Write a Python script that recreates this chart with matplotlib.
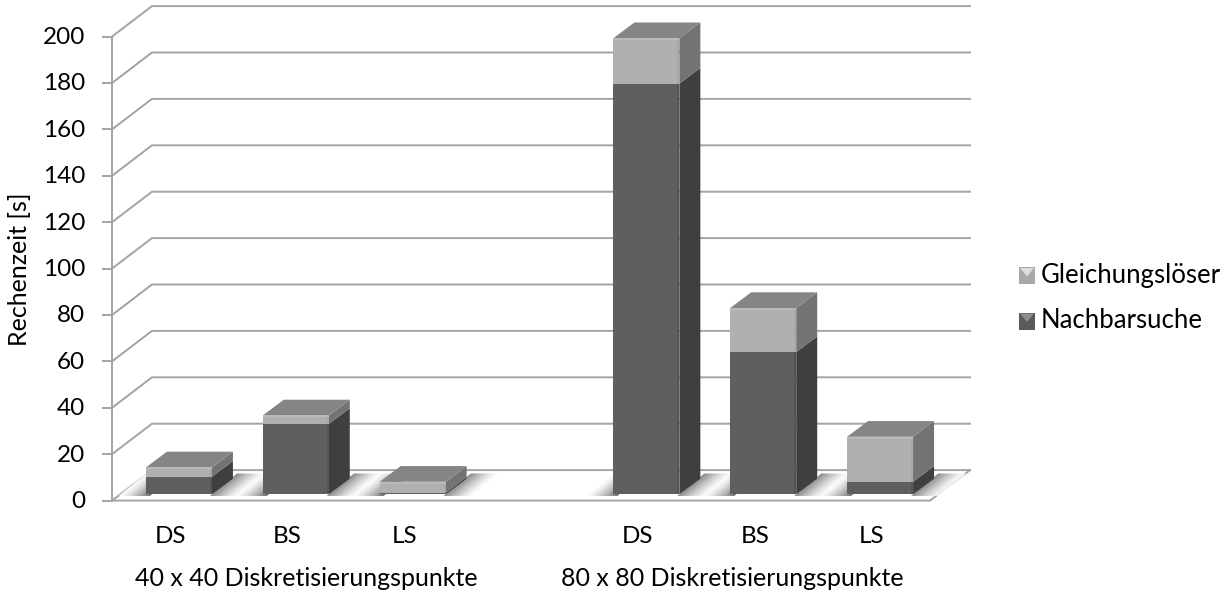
import matplotlib
matplotlib.use('Agg')
import matplotlib.pyplot as plt
from matplotlib.patches import Polygon, Rectangle

plt.rcParams['font.family'] = ['Lato', 'DejaVu Sans']

bar_labels = ['DS', 'BS', 'LS', 'DS', 'BS', 'LS']
bar_slots = [0, 1, 2, 4, 5, 6]
group_labels = ['40 x 40 Diskretisierungspunkte', '80 x 80 Diskretisierungspunkte']
nachbarsuche = [7.6, 30.3, 0.7, 177, 61.3, 5.4]
gleichungsloeser = [4.0, 3.7, 4.7, 19.6, 19.0, 19.4]
y_ticks = list(range(0, 201, 20))

W, H = 1229, 591
fig = plt.figure(figsize=(W / 100, H / 100), dpi=100)
# front plane of the fake 3D box, in pixels
left, right, bottom, top = 112, 930, 500.6, 36.6
ax = fig.add_axes([left / W, 1 - bottom / H, (right - left) / W, (bottom - top) / H])
ax.set_xlim(0, 7)
ax.set_ylim(0, 200)
ax.axis('off')

px_x = 7 / (right - left)
px_y = 200 / (bottom - top)
depth_x = 40 * px_x
depth_y = 30.5 * px_y
bar_w = 66 * px_x
bar_dx = 21 * px_x
bar_dy = 15.7 * px_y
off_x = 8.5 * px_x
off_y = 6.3 * px_y
grid_col = '#a3a3a3'

DARK = ('#5f5f5f', '#3f3f3f', '#565656')
LIGHT = ('#b0b0b0', '#737373', '#a8a8a8')
TOP = '#858585'


def poly(pts, color, z, **kw):
    ax.add_patch(Polygon(pts, closed=True, facecolor=color, edgecolor='none',
                         clip_on=False, zorder=z, **kw))


def fade(x_near, x_far, y0, y1, shear, strength, z, n=30):
    # soft floor shadow made of thin sheared strips, dark at x_near
    for k in range(n):
        a = x_near + (x_far - x_near) * k / n
        b = x_near + (x_far - x_near) * (k + 1.3) / n
        g = 1 - strength * (1 - (k + 0.5) / n) ** 1.3
        poly([(a, y0), (b, y0), (b + shear, y1), (a + shear, y1)], str(g), z + (n - k) * 0.001)


# wall and floor lines
for v in y_ticks:
    ax.plot([0, depth_x, 7 + depth_x], [v, v + depth_y, v + depth_y], color=grid_col,
            lw=1.4, clip_on=False, zorder=1, solid_joinstyle='miter')
    ax.plot([-9.5 * px_x, 0], [v, v], color=grid_col, lw=1.4, clip_on=False, zorder=1)
ax.plot([0, 0], [0, 200], color=grid_col, lw=1.4, clip_on=False, zorder=1)
ax.plot([0, 7, 7 + depth_x], [0, 0, depth_y], color=grid_col, lw=1.4, clip_on=False, zorder=1)

# floor shadows on both sides of each bar
for s in bar_slots:
    x0 = s + 0.5 + off_x - bar_w / 2
    y0, y1 = 2.0, depth_y - 1.5
    shear = 27 * px_x
    fade(x0 + 4 * px_x, x0 - 27 * px_x, y0, y1, shear, 0.62, 2)
    fade(x0 + bar_w - 2 * px_x, x0 + bar_w + 26 * px_x, y0, y1, shear, 0.52, 2)


def box(x0, y0, h, cols, z):
    x1 = x0 + bar_w
    poly([(x0, y0), (x1, y0), (x1, y0 + h), (x0, y0 + h)], cols[0], z)
    poly([(x1, y0), (x1 + bar_dx, y0 + bar_dy), (x1 + bar_dx, y0 + h + bar_dy), (x1, y0 + h)], cols[1], z)
    # slight bevel along the front right edge
    poly([(x1 - 2 * px_x, y0), (x1, y0), (x1, y0 + h), (x1 - 2 * px_x, y0 + h)], cols[2], z + 0.01)


for i, s in enumerate(bar_slots):
    x0 = s + 0.5 + off_x - bar_w / 2
    z = 5 + i
    n = nachbarsuche[i]
    g = gleichungsloeser[i]
    box(x0, off_y, n, DARK, z)
    box(x0, off_y + n, g, LIGHT, z + 0.1)
    t = off_y + n + g
    poly([(x0, t), (x0 + bar_w, t), (x0 + bar_w + bar_dx, t + bar_dy), (x0 + bar_dx, t + bar_dy)], TOP, z + 0.2)
    poly([(x0, t - 2 * px_y), (x0 + bar_w, t - 2 * px_y), (x0 + bar_w, t), (x0, t)], '#b9b9b9', z + 0.2)
    ax.text(s + 0.5, -15.6, bar_labels[i], ha='center', va='center', fontsize=17.5, color='black', clip_on=False)

for v in y_ticks:
    ax.text(-27 * px_x, v - 0.4, str(v), ha='right', va='center', fontsize=17.5, color='black')

ax.text(1.5 + 19 * px_x, -33.5, group_labels[0], ha='center', va='center', fontsize=18)
ax.text(5.5 - 22 * px_x, -33.5, group_labels[1], ha='center', va='center', fontsize=18)
fig.text(20 / W, 1 - 269 / H, 'Rechenzeit [s]', rotation=90, ha='center', va='center', fontsize=18)

# legend
for yp, label, cols in [(275.5, 'Gleichungslöser', ('#a8a8a8', '#dcdcdc')),
                        (321, 'Nachbarsuche', ('#5a5a5a', '#8e8e8e'))]:
    xs = 1019
    fig.add_artist(Rectangle((xs / W, 1 - (yp + 8.5) / H), 16 / W, 17 / H, transform=fig.transFigure,
                             facecolor=cols[0], edgecolor='none'))
    fig.add_artist(Polygon([((xs + 1) / W, 1 - (yp - 7.5) / H), ((xs + 15) / W, 1 - (yp - 7.5) / H),
                            ((xs + 8) / W, 1 - (yp + 1) / H)], closed=True, transform=fig.transFigure,
                           facecolor=cols[1], edgecolor='none'))
    fig.text(1041 / W, 1 - yp / H, label, ha='left', va='center', fontsize=18.5)

fig.savefig('out.png', dpi=100)
